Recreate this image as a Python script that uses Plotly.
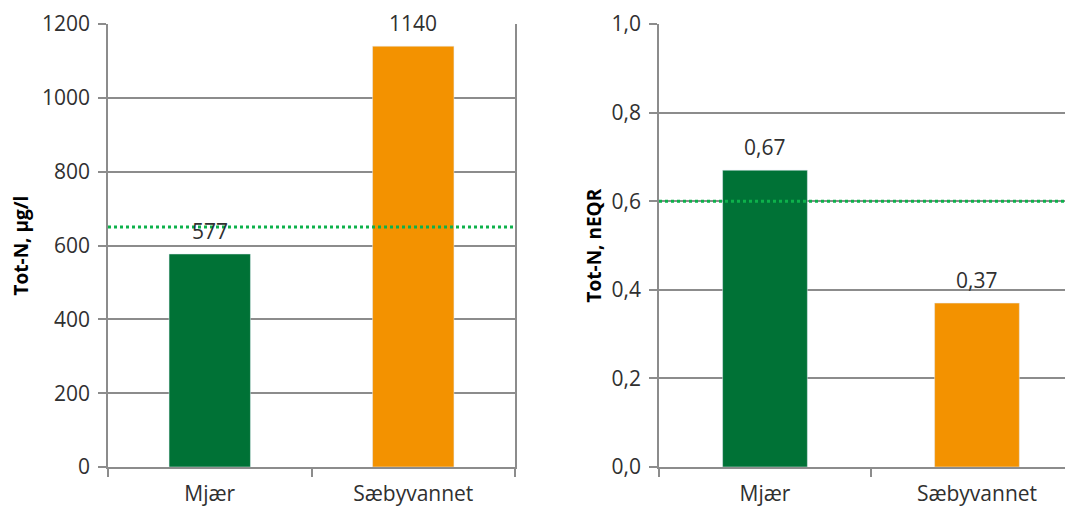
import plotly.graph_objects as go

categories = ["Mjær", "Sæbyvannet"]
totn_ugl = [577, 1140]
totn_neqr = [0.67, 0.37]
label_ugl = ["577", "1140"]
label_neqr = ["0,67", "0,37"]
bar_colors = ["#007236", "#F39200"]
threshold_ugl = 650
threshold_neqr = 0.6
left_ticks = [0, 200, 400, 600, 800, 1000, 1200]
right_ticks = [0.0, 0.2, 0.4, 0.6, 0.8, 1.0]
right_ticktext = ["0,0", "0,2", "0,4", "0,6", "0,8", "1,0"]
left_title = "Tot-N, µg/l"
right_title = "Tot-N, nEQR"

FONT = "Open Sans"
TXT = "#303030"
GRID = "#8C8C8C"
DOT = "#0DB14B"

W, H = 1065, 502

fig = go.Figure()
fig.add_trace(go.Bar(x=categories, y=totn_ugl, marker_color=bar_colors, width=0.4,
                     xaxis="x", yaxis="y", showlegend=False, hoverinfo="skip"))
fig.add_trace(go.Bar(x=categories, y=totn_neqr, marker_color=bar_colors, width=0.4,
                     xaxis="x2", yaxis="y2", showlegend=False, hoverinfo="skip"))

annotations = []
for c, v, t in zip(categories, totn_ugl, label_ugl):
    annotations.append(dict(x=c, y=v, xref="x", yref="y", text=t, showarrow=False,
                            yanchor="middle", yshift=23, font=dict(family=FONT, size=21, color=TXT)))
for c, v, t in zip(categories, totn_neqr, label_neqr):
    annotations.append(dict(x=c, y=v, xref="x2", yref="y2", text=t, showarrow=False,
                            yanchor="middle", yshift=23, font=dict(family=FONT, size=21, color=TXT)))

titlefont = dict(family=FONT, size=19, color="#000000", weight="bold")
annotations.append(dict(x=12/W, y=0.5, xref="paper", yref="paper", text=left_title, textangle=-90,
                        showarrow=False, xanchor="center", yanchor="middle", borderpad=0, font=titlefont))
annotations.append(dict(x=585/W, y=0.5, xref="paper", yref="paper", text=right_title, textangle=-90,
                        showarrow=False, xanchor="center", yanchor="middle", borderpad=0, font=titlefont))

shapes = [
    dict(type="line", xref="x domain", yref="y", x0=0, x1=1, y0=threshold_ugl, y1=threshold_ugl,
         line=dict(color=DOT, width=3, dash="dot"), layer="above"),
    dict(type="line", xref="x2 domain", yref="y2", x0=0, x1=1, y0=threshold_neqr, y1=threshold_neqr,
         line=dict(color=DOT, width=3, dash="dot"), layer="above"),
]

tickfont = dict(family=FONT, size=21, color=TXT)

common_x = dict(type="category", tickson="boundaries", ticks="outside", ticklen=8, tickcolor=GRID,
                tickwidth=1.5, showline=True, linecolor=GRID, linewidth=1.5, showgrid=False,
                tickfont=tickfont, ticklabelstandoff=7, automargin=False)
common_y = dict(domain=[0, 1], ticks="outside", ticklen=8, tickcolor=GRID, tickwidth=1.5,
                showline=True, linecolor=GRID, linewidth=1.5, showgrid=True, gridcolor=GRID,
                gridwidth=1.5, zeroline=False, tickfont=tickfont, ticklabelstandoff=4, automargin=False)

fig.update_layout(
    width=W, height=H,
    margin=dict(l=0, r=0, t=16, b=43, autoexpand=False),
    paper_bgcolor="white", plot_bgcolor="white",
    annotations=annotations,
    shapes=shapes,
    xaxis=dict(domain=[100/W, 507/W], range=[-0.5, 1.5], anchor="y", **common_x),
    yaxis=dict(range=[0, 1200], tickvals=left_ticks, mirror=True, anchor="x", **common_y),
    xaxis2=dict(domain=[651/W, 1], range=[-0.5, 1.453], anchor="y2", **common_x),
    yaxis2=dict(range=[0, 1.0], tickvals=right_ticks, ticktext=right_ticktext, anchor="x2", **common_y),
)

fig.write_html("out.html")
